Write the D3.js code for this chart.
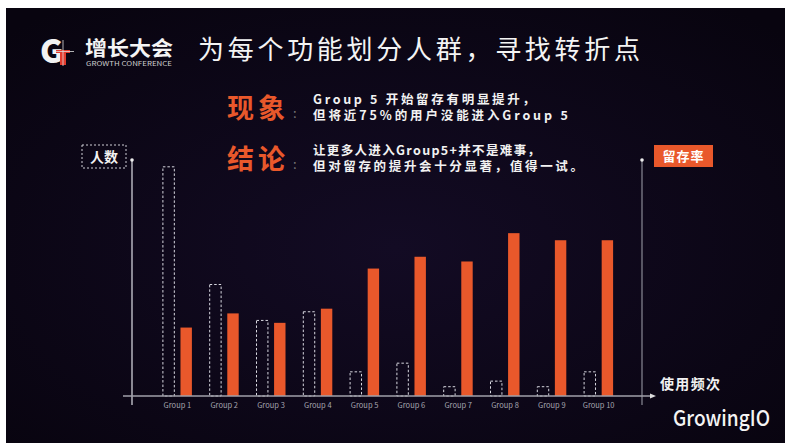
<!DOCTYPE html>
<html>
<head>
<meta charset="utf-8">
<script src="https://cdn.jsdelivr.net/npm/d3@7/dist/d3.min.js"></script>
<style>
  html, body { margin: 0; padding: 0; background: #ffffff; }
  svg { display: block; }
  text { font-family: "Noto Sans CJK SC", "Noto Sans", sans-serif; }
</style>
</head>
<body>
<svg id="chart" width="785" height="443"></svg>
<script>
// Usage-frequency groups
const groups = ["Group 1", "Group 2", "Group 3", "Group 4", "Group 5",
                "Group 6", "Group 7", "Group 8", "Group 9", "Group 10"];
// Share of users in each group (%)
const userShare = [37.0, 18.0, 12.2, 13.6, 3.9, 5.3, 1.5, 2.4, 1.5, 3.9];
// Retention rate of each group (%)
const retention = [29, 35, 31, 37, 54, 59, 57, 69, 66, 66];

const title = "为每个功能划分人群，寻找转折点";
const phenomenon = ["Group 5 开始留存有明显提升，", "但将近75%的用户没能进入Group 5"];
const conclusion = ["让更多人进入Group5+并不是难事，", "但对留存的提升会十分显著，值得一试。"];

const W = 785, H = 443;
const ORANGE = "#e9582b";
const svg = d3.select("#chart");

// slide background
const defs = svg.append("defs");
const grad = defs.append("radialGradient").attr("id", "bg")
  .attr("cx", "50%").attr("cy", "55%").attr("r", "70%");
grad.append("stop").attr("offset", "0%").attr("stop-color", "#130b24");
grad.append("stop").attr("offset", "100%").attr("stop-color", "#08040f");
svg.append("rect").attr("x", 6).attr("y", 8).attr("width", W - 6).attr("height", H - 8)
  .attr("fill", "url(#bg)");

// ---- logo ----
const logo = svg.append("g");
logo.append("text").attr("x", 40).attr("y", 63).attr("fill", "#f2f2f2")
  .attr("font-size", 32).attr("font-weight", 900).attr("font-family", "Lato, sans-serif").text("G");
logo.append("rect").attr("x", 60).attr("y", 50).attr("width", 6).attr("height", 15).attr("fill", "#e23b2e");
logo.append("rect").attr("x", 56).attr("y", 50).attr("width", 14).attr("height", 3).attr("fill", "#e23b2e");
logo.append("line").attr("x1", 63).attr("x2", 63).attr("y1", 40).attr("y2", 66)
  .attr("stroke", "#ddd").attr("stroke-width", 0.8);
logo.append("line").attr("x1", 56).attr("x2", 74).attr("y1", 51.5).attr("y2", 51.5)
  .attr("stroke", "#ddd").attr("stroke-width", 0.8);
logo.append("text").attr("x", 85).attr("y", 56).attr("fill", "#f4f4f4")
  .attr("font-size", 20).attr("font-weight", 700)
  .attr("textLength", 88).attr("lengthAdjust", "spacingAndGlyphs").text("增长大会");
logo.append("text").attr("x", 86).attr("y", 66).attr("fill", "#cfcfcf")
  .attr("font-size", 5.5).attr("textLength", 86).attr("lengthAdjust", "spacingAndGlyphs")
  .text("GROWTH CONFERENCE");

// ---- title ----
svg.append("text").attr("x", 198).attr("y", 59).attr("fill", "#f4f4f4")
  .attr("font-size", 26).attr("textLength", 442).attr("lengthAdjust", "spacing").text(title);

// ---- notes ----
function note(label, lines, y0, widths) {
  svg.append("text").attr("x", 227).attr("y", y0 + 22).attr("fill", ORANGE)
    .attr("font-size", 27).attr("font-weight", 700)
    .attr("textLength", 58).attr("lengthAdjust", "spacing").text(label);
  svg.append("text").attr("x", 293).attr("y", y0 + 22).attr("fill", "#777")
    .attr("font-size", 13).text(":");
  lines.forEach((t, i) => {
    svg.append("text").attr("x", 313).attr("y", y0 + 8 + i * 15.5).attr("fill", "#f2f2f2")
      .attr("font-size", 12.5).attr("font-weight", 700)
      .attr("textLength", widths[i]).attr("lengthAdjust", "spacing").text(t);
  });
}
note("现象", phenomenon, 96, [222, 255]);
note("结论", conclusion, 147, [227, 270]);

// ---- chart ----
const baseY = 396, topY = 160;
const x = d3.scaleBand().domain(groups).range([154, 622]).paddingInner(0).paddingOuter(0);
const sub = d3.scaleBand().domain(["users", "retention"]).range([-14.5, 14.5]).paddingInner(0.35);
const yUsers = d3.scaleLinear().domain([0, 38.1]).range([baseY, topY]);
const yRet = d3.scaleLinear().domain([0, 100]).range([baseY, topY]);

const cx = g => x(g) + x.bandwidth() / 2;

// user-share bars (dashed outline)
svg.append("g").selectAll("rect").data(groups).join("rect")
  .attr("x", (g) => cx(g) + sub("users"))
  .attr("y", (g, i) => yUsers(userShare[i]))
  .attr("width", sub.bandwidth())
  .attr("height", (g, i) => baseY - yUsers(userShare[i]))
  .attr("fill", "none").attr("stroke", "#d8d8e0").attr("stroke-width", 1)
  .attr("stroke-dasharray", "2.5,2");

// retention bars
svg.append("g").selectAll("rect").data(groups).join("rect")
  .attr("x", (g) => cx(g) + sub("retention"))
  .attr("y", (g, i) => yRet(retention[i]))
  .attr("width", sub.bandwidth())
  .attr("height", (g, i) => baseY - yRet(retention[i]))
  .attr("fill", ORANGE);

// axes
svg.append("line").attr("x1", 132).attr("x2", 132).attr("y1", topY).attr("y2", 405)
  .attr("stroke", "#d0d0d8").attr("stroke-width", 1.3);
svg.append("circle").attr("cx", 132).attr("cy", topY).attr("r", 1.8).attr("fill", "#eee");
svg.append("line").attr("x1", 642).attr("x2", 642).attr("y1", topY).attr("y2", 405)
  .attr("stroke", "#8a8a96").attr("stroke-width", 1.2);
svg.append("circle").attr("cx", 642).attr("cy", topY).attr("r", 1.8).attr("fill", "#eee");

const xAxis = d3.axisBottom(x).tickSize(0).tickPadding(7);
const ax = svg.append("g").attr("transform", `translate(0,${baseY})`).call(xAxis);
ax.select(".domain").remove();
ax.selectAll("text").attr("fill", "#a4a4ae").attr("font-size", 7.5)
  .attr("font-family", "Liberation Sans, sans-serif");
svg.append("line").attr("x1", 123).attr("x2", 652).attr("y1", baseY).attr("y2", baseY)
  .attr("stroke", "#a0a0aa").attr("stroke-width", 1.5);
svg.append("path").attr("d", `M656,${baseY} L650,${baseY - 2.5} L650,${baseY + 2.5} Z`).attr("fill", "#ddd");

// axis titles
svg.append("rect").attr("x", 82).attr("y", 145).attr("width", 44).attr("height", 23)
  .attr("fill", "none").attr("stroke", "#cfcfd6").attr("stroke-width", 1).attr("stroke-dasharray", "2,2");
svg.append("text").attr("x", 104).attr("y", 161.5).attr("text-anchor", "middle")
  .attr("fill", "#f2f2f2").attr("font-size", 14).attr("font-weight", 700).text("人数");

svg.append("rect").attr("x", 654).attr("y", 145).attr("width", 59).attr("height", 22).attr("fill", ORANGE);
svg.append("text").attr("x", 683.5).attr("y", 161).attr("text-anchor", "middle")
  .attr("fill", "#fff").attr("font-size", 13).attr("font-weight", 700)
  .attr("letter-spacing", 1).text("留存率");

svg.append("text").attr("x", 660).attr("y", 389).attr("fill", "#f2f2f2")
  .attr("font-size", 14).attr("font-weight", 700)
  .attr("textLength", 60).attr("lengthAdjust", "spacing").text("使用频次");

// brand
svg.append("text").attr("x", 673).attr("y", 426).attr("fill", "#f4f4f4")
  .attr("font-size", 22).attr("font-weight", 500).attr("font-family", "Roboto, sans-serif")
  .attr("textLength", 97).attr("lengthAdjust", "spacingAndGlyphs").text("GrowingIO");
</script>
</body>
</html>
